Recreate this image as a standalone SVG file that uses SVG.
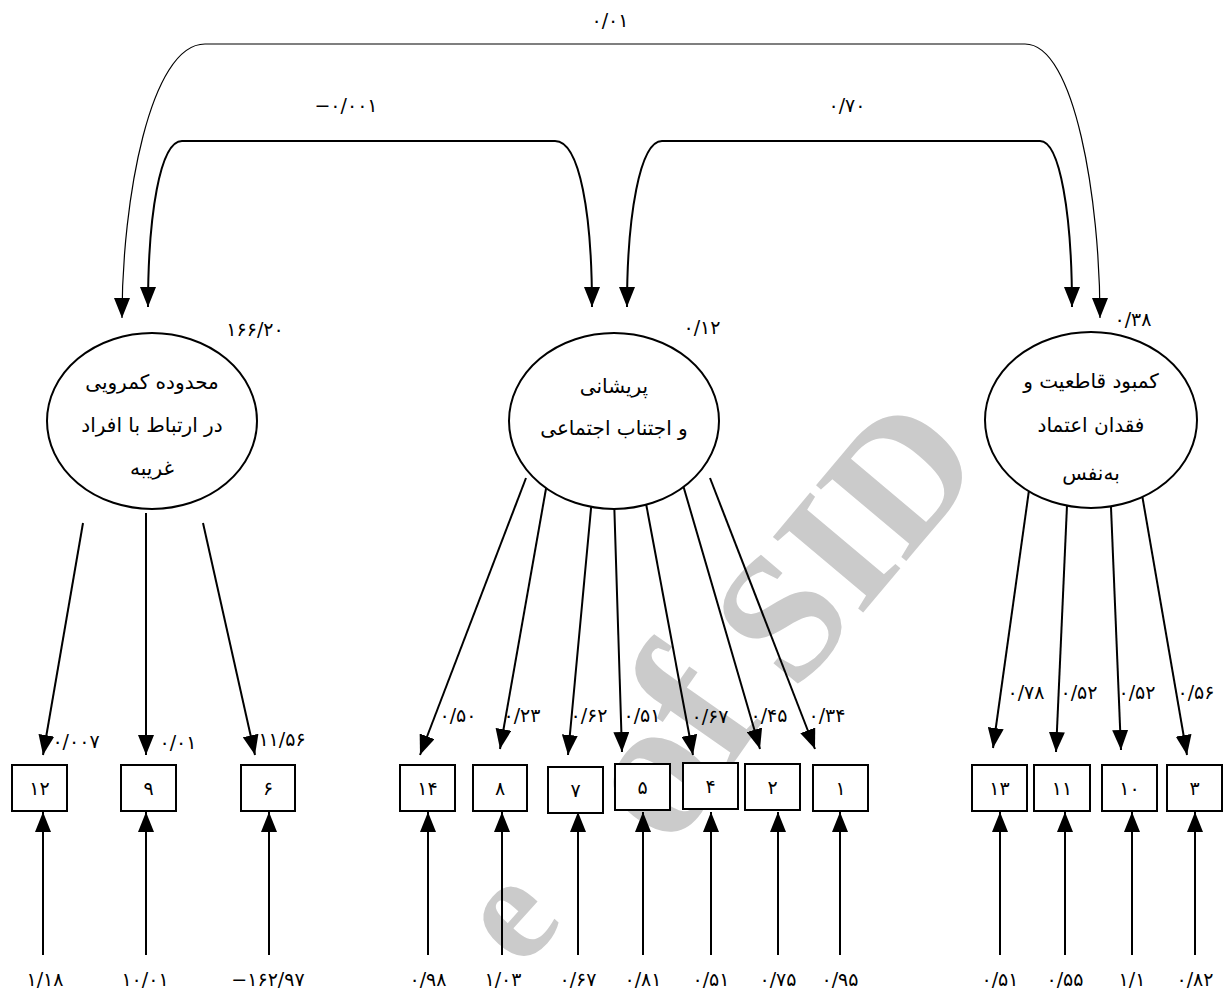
<svg xmlns="http://www.w3.org/2000/svg" width="1226" height="990" viewBox="0 0 1226 990">
<defs>
<marker id="ah" markerUnits="userSpaceOnUse" viewBox="0 0 20 16" refX="20" refY="8" markerWidth="20" markerHeight="16" orient="auto-start-reverse">
<path d="M0,0 L20,8 L0,16 z" fill="#000"/>
</marker>
</defs>
<style>
text{font-family:"DejaVu Sans",sans-serif;fill:#000}
.n{font-size:19px;text-anchor:middle;dominant-baseline:central}
.f{font-size:20px;text-anchor:middle}
.b{font-size:19px;text-anchor:middle;dominant-baseline:central}
.box{fill:#fff;stroke:#000;stroke-width:2}
.ell{fill:#fff;stroke:#000;stroke-width:2}
.ld{stroke:#000;stroke-width:2;fill:none;marker-end:url(#ah)}
.cv{stroke:#000;fill:none;marker-start:url(#ah);marker-end:url(#ah)}
.wm{font-family:"Liberation Serif",serif;font-weight:bold;font-size:180px;fill:#cbcbcb;text-anchor:middle;dominant-baseline:central}
</style>
<rect width="1226" height="990" fill="#fff"/>
<g id="watermark">
<text class="wm" transform="translate(845,540) rotate(-50)">SID</text>
<text class="wm" style="font-size:200px" transform="translate(664,745) rotate(-55)">of</text>
<text class="wm" style="font-size:150px" transform="translate(505,912) rotate(-48)">e</text>
</g>

<g id="connectors">
<path class="cv" stroke-width="1.2" d="M122,318 C122,200 150,44 205,44 H1025 C1075,44 1100,200 1100,318"/>
<path class="cv" stroke-width="2" d="M148,307 C148,215 160,141 182,141 H555 C580,141 592,215 592,307"/>
<path class="cv" stroke-width="2" d="M627,307 C627,215 640,141 662,141 H1040 C1060,141 1072,215 1072,307"/>
<line class="ld" x1="83" y1="523" x2="43" y2="755"/>
<line class="ld" x1="146" y1="513" x2="146" y2="755"/>
<line class="ld" x1="203" y1="523" x2="255" y2="755"/>
<line class="ld" x1="526" y1="478" x2="420" y2="755"/>
<line class="ld" x1="547" y1="483" x2="500" y2="749"/>
<line class="ld" x1="592" y1="498" x2="568" y2="755"/>
<line class="ld" x1="614" y1="498" x2="622" y2="752"/>
<line class="ld" x1="645" y1="498" x2="693" y2="755"/>
<line class="ld" x1="683" y1="485" x2="760" y2="749"/>
<line class="ld" x1="710" y1="478" x2="815" y2="749"/>
<line class="ld" x1="1030" y1="483" x2="993" y2="748"/>
<line class="ld" x1="1068" y1="483" x2="1056" y2="752"/>
<line class="ld" x1="1110" y1="483" x2="1121" y2="750"/>
<line class="ld" x1="1140" y1="483" x2="1187" y2="755"/>
<line class="ld" x1="43" y1="955" x2="43" y2="812"/>
<line class="ld" x1="146" y1="955" x2="146" y2="812"/>
<line class="ld" x1="269" y1="955" x2="269" y2="812"/>
<line class="ld" x1="428" y1="955" x2="428" y2="812"/>
<line class="ld" x1="502" y1="955" x2="502" y2="812"/>
<line class="ld" x1="578" y1="955" x2="578" y2="812"/>
<line class="ld" x1="643" y1="955" x2="643" y2="812"/>
<line class="ld" x1="711" y1="955" x2="711" y2="812"/>
<line class="ld" x1="778" y1="955" x2="778" y2="812"/>
<line class="ld" x1="840" y1="955" x2="840" y2="812"/>
<line class="ld" x1="1000" y1="955" x2="1000" y2="812"/>
<line class="ld" x1="1065" y1="955" x2="1065" y2="812"/>
<line class="ld" x1="1132" y1="955" x2="1132" y2="812"/>
<line class="ld" x1="1195" y1="955" x2="1195" y2="812"/>
</g>

<g id="labels">
<text class="n" x="610" y="20">۰/۰۱</text>
<text class="n" x="346" y="105">−۰/۰۰۱</text>
<text class="n" x="847" y="105">۰/۷۰</text>
<text class="n" x="255" y="329">۱۶۶/۲۰</text>
<text class="n" x="702" y="327">۰/۱۲</text>
<text class="n" x="1133" y="319">۰/۳۸</text>
<text class="n" x="76" y="741">۰/۰۰۷</text>
<text class="n" x="178" y="742">۰/۰۱</text>
<text class="n" x="282" y="739">۱۱/۵۶</text>
<text class="n" x="458" y="715">۰/۵۰</text>
<text class="n" x="522" y="715">۰/۲۳</text>
<text class="n" x="589" y="715">۰/۶۲</text>
<text class="n" x="642" y="715">۰/۵۱</text>
<text class="n" x="710" y="716">۰/۶۷</text>
<text class="n" x="769" y="715">۰/۴۵</text>
<text class="n" x="827" y="715">۰/۳۴</text>
<text class="n" x="1026" y="692">۰/۷۸</text>
<text class="n" x="1079" y="692">۰/۵۲</text>
<text class="n" x="1137" y="692">۰/۵۲</text>
<text class="n" x="1196" y="692">۰/۵۶</text>
<text class="n" x="45" y="979">۱/۱۸</text>
<text class="n" x="145" y="979">۱۰/۰۱</text>
<text class="n" x="268" y="979">−۱۶۲/۹۷</text>
<text class="n" x="428" y="979">۰/۹۸</text>
<text class="n" x="503" y="979">۱/۰۳</text>
<text class="n" x="578" y="979">۰/۶۷</text>
<text class="n" x="643" y="979">۰/۸۱</text>
<text class="n" x="711" y="979">۰/۵۱</text>
<text class="n" x="778" y="979">۰/۷۵</text>
<text class="n" x="840" y="979">۰/۹۵</text>
<text class="n" x="1000" y="979">۰/۵۱</text>
<text class="n" x="1065" y="979">۰/۵۵</text>
<text class="n" x="1132" y="979">۱/۱</text>
<text class="n" x="1195" y="979">۰/۸۲</text>
</g>

<g id="f1">
<ellipse class="ell" cx="152" cy="421" rx="105" ry="88"/>
<text class="f" x="152" y="389">محدوده کمرویی</text>
<text class="f" x="152" y="432">در ارتباط با افراد</text>
<text class="f" x="152" y="475">غریبه</text>
</g>
<g id="f2">
<ellipse class="ell" cx="614" cy="421" rx="105" ry="88"/>
<text class="f" x="614" y="393">پریشانی</text>
<text class="f" x="614" y="435">و اجتناب اجتماعی</text>
</g>
<g id="f3">
<ellipse class="ell" cx="1091" cy="420" rx="106" ry="88"/>
<text class="f" x="1091" y="388">کمبود قاطعیت و</text>
<text class="f" x="1091" y="432">فقدان اعتماد</text>
<text class="f" x="1091" y="480">به‌نفس</text>
</g>

<g id="i12"><rect class="box" x="12" y="765" width="55" height="46"/><text class="b" x="39.5" y="788">۱۲</text></g>
<g id="i9"><rect class="box" x="121" y="765" width="55" height="46"/><text class="b" x="148.5" y="788">۹</text></g>
<g id="i6"><rect class="box" x="241" y="765" width="54" height="46"/><text class="b" x="268" y="788">۶</text></g>
<g id="i14"><rect class="box" x="400" y="765" width="55" height="46"/><text class="b" x="427.5" y="788">۱۴</text></g>
<g id="i8"><rect class="box" x="473" y="765" width="54" height="46"/><text class="b" x="500" y="788">۸</text></g>
<g id="i7"><rect class="box" x="548" y="767" width="55" height="46"/><text class="b" x="575.5" y="790">۷</text></g>
<g id="i5"><rect class="box" x="615" y="764" width="55" height="46"/><text class="b" x="642.5" y="787">۵</text></g>
<g id="i4"><rect class="box" x="683" y="763" width="55" height="46"/><text class="b" x="710.5" y="786">۴</text></g>
<g id="i2"><rect class="box" x="745" y="764" width="55" height="46"/><text class="b" x="772.5" y="787">۲</text></g>
<g id="i1"><rect class="box" x="813" y="765" width="55" height="46"/><text class="b" x="840.5" y="788">۱</text></g>
<g id="i13"><rect class="box" x="972" y="765" width="55" height="46"/><text class="b" x="999.5" y="788">۱۳</text></g>
<g id="i11"><rect class="box" x="1034" y="765" width="56" height="46"/><text class="b" x="1062" y="788">۱۱</text></g>
<g id="i10"><rect class="box" x="1102" y="765" width="55" height="46"/><text class="b" x="1129.5" y="788">۱۰</text></g>
<g id="i3"><rect class="box" x="1167" y="765" width="55" height="46"/><text class="b" x="1194.5" y="788">۳</text></g>
</svg>
